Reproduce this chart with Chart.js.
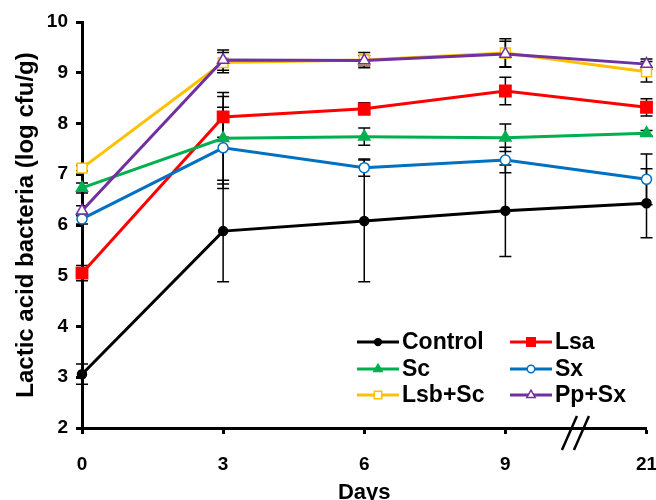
<!DOCTYPE html>
<html>
<head>
<meta charset="utf-8">
<script src="https://cdn.jsdelivr.net/npm/chart.js@4"></script>
<style>
  body { margin: 0; background: #fff; }
  #wrap { width: 656px; height: 500px; }
</style>
</head>
<body>
<div id="wrap"><canvas id="lab-chart"></canvas></div>
<script>
// Days of storage (axis is broken between 9 and 21)
const days = ['0', '3', '6', '9', '21'];
const seriesNames = ['Control', 'Lsa', 'Sc', 'Sx', 'Lsb+Sc', 'Pp+Sx'];

// Mean counts (log cfu/g)
const control = [3.06, 5.88, 6.08, 6.28, 6.43];
const lsa = [5.05, 8.13, 8.29, 8.64, 8.32];
const sc = [6.73, 7.71, 7.74, 7.72, 7.81];
const sx = [6.12, 7.52, 7.13, 7.28, 6.90];
const lsbSc = [7.12, 9.20, 9.25, 9.39, 9.02];
const ppSx = [6.28, 9.25, 9.24, 9.37, 9.17];

// Standard deviations
const controlErr = [0.20, 1.00, 1.20, 0.90, 0.68];
const lsaErr = [0.15, 0.40, 0.12, 0.27, 0.17];
const scErr = [0.10, 0.90, 0.17, 0.27, 0.05];
const sxErr = [0.10, 0.80, 0.17, 0.25, 0.50];
const lsbScErr = [0.05, 0.20, 0.15, 0.28, 0.20];
const ppSxErr = [0.10, 0.20, 0.10, 0.25, 0.10];

const yTicks = [2, 3, 4, 5, 6, 7, 8, 9, 10];

const FONT = "'Liberation Sans', Arial, sans-serif";

const errors = [controlErr, lsaErr, scErr, sxErr, lsbScErr, ppSxErr];

// Error bars, drawn under the lines
const errorBars = {
  id: 'errorBars',
  beforeDatasetsDraw(chart) {
    const ctx = chart.ctx;
    const xs = chart.scales.x;
    const ys = chart.scales.y;
    ctx.save();
    ctx.strokeStyle = '#000';
    ctx.lineWidth = 1.5;
    chart.data.datasets.forEach((ds, i) => {
      ds.data.forEach((v, j) => {
        const e = errors[i][j];
        const x = xs.getPixelForValue(j);
        const yTop = ys.getPixelForValue(v + e);
        const yBot = ys.getPixelForValue(v - e);
        ctx.beginPath();
        ctx.moveTo(x, yTop);
        ctx.lineTo(x, yBot);
        ctx.moveTo(x - 6, yTop);
        ctx.lineTo(x + 6, yTop);
        ctx.moveTo(x - 6, yBot);
        ctx.lineTo(x + 6, yBot);
        ctx.stroke();
      });
    });
    ctx.restore();
  }
};

// Legend inside the plot (2 columns) and the // axis break
const extras = {
  id: 'extras',
  afterDraw(chart) {
    const ctx = chart.ctx;
    const xs = chart.scales.x;
    const ys = chart.scales.y;
    ctx.save();

    // axis break between 9 and 21
    const bx = (xs.getPixelForValue(3) + xs.getPixelForValue(4)) / 2;
    const by = ys.getPixelForValue(2);
    ctx.strokeStyle = '#000';
    ctx.lineWidth = 2.5;
    [-6, 6].forEach(dx => {
      ctx.beginPath();
      ctx.moveTo(bx + dx - 8, by + 22);
      ctx.lineTo(bx + dx + 7, by - 12);
      ctx.stroke();
    });

    // legend
    ctx.font = 'bold 23px ' + FONT;
    ctx.textBaseline = 'middle';
    ctx.textAlign = 'left';
    const colX = [357, 510];
    const rowY = [342, 369, 395];
    chart.data.datasets.forEach((ds, i) => {
      const x0 = colX[i % 2];
      const y0 = rowY[Math.floor(i / 2)];
      ctx.strokeStyle = ds.borderColor;
      ctx.lineWidth = 3;
      ctx.beginPath();
      ctx.moveTo(x0, y0);
      ctx.lineTo(x0 + 42, y0);
      ctx.stroke();
      ctx.fillStyle = ds.pointBackgroundColor;
      ctx.strokeStyle = ds.borderColor;
      ctx.lineWidth = 1.5;
      Chart.helpers.drawPoint(ctx, {
        pointStyle: ds.pointStyle,
        radius: ds.pointRadius * 0.75,
        rotation: 0,
        borderWidth: 1.5
      }, x0 + 21, y0);
      ctx.fillStyle = '#000';
      ctx.fillText(ds.label, x0 + 45, y0 + 1);
    });
    ctx.restore();
  }
};

function makeSet(label, data, color, style, radius, filled, order) {
  return {
    label: label,
    data: data,
    borderColor: color,
    backgroundColor: color,
    borderWidth: 3,
    pointStyle: style,
    pointRadius: radius,
    pointBorderWidth: 1.5,
    pointBackgroundColor: filled ? color : '#fff',
    pointBorderColor: color,
    tension: 0,
    order: order
  };
}

const ctx = document.getElementById('lab-chart');

new Chart(ctx, {
  type: 'line',
  data: {
    labels: days,
    datasets: [
      makeSet(seriesNames[0], control, '#000000', 'circle', 4.5, true, 5),
      makeSet(seriesNames[1], lsa, '#ff0000', 'rect', 8, true, 4),
      makeSet(seriesNames[2], sc, '#00b050', 'triangle', 6.5, true, 3),
      makeSet(seriesNames[3], sx, '#0070c0', 'circle', 5, false, 2),
      makeSet(seriesNames[4], lsbSc, '#ffc000', 'rect', 7, false, 1),
      makeSet(seriesNames[5], ppSx, '#7030a0', 'triangle', 6.5, false, 0)
    ]
  },
  options: {
    responsive: true,
    maintainAspectRatio: false,
    animation: false,
    layout: {
      padding: { top: 22, right: 8, left: 0, bottom: 0 }
    },
    scales: {
      x: {
        type: 'category',
        offset: false,
        grid: {
          display: true,
          drawOnChartArea: false,
          drawTicks: true,
          tickLength: 6,
          tickWidth: 3,
          tickColor: '#000'
        },
        border: { display: true, color: '#000', width: 3 },
        ticks: {
          color: '#000',
          padding: 19,
          maxRotation: 0,
          font: { family: FONT, size: 19, weight: 'bold' }
        },
        title: {
          display: true,
          text: 'Days',
          color: '#000',
          padding: { top: 0, bottom: -6 },
          font: { family: FONT, size: 22, weight: 'bold' }
        },
        afterFit(scale) {
          scale.height = 72;
          scale.paddingRight = 0;
          scale.paddingLeft = 0;
        }
      },
      y: {
        min: 2,
        max: 10,
        afterBuildTicks(scale) {
          scale.ticks = yTicks.map(v => ({ value: v }));
        },
        grid: {
          display: true,
          drawOnChartArea: false,
          drawTicks: true,
          tickLength: 6,
          tickWidth: 3,
          tickColor: '#000'
        },
        border: { display: true, color: '#000', width: 3 },
        ticks: {
          color: '#000',
          padding: 8,
          font: { family: FONT, size: 19, weight: 'bold' }
        },
        title: {
          display: true,
          text: 'Lactic acid bacteria (log cfu/g)',
          color: '#000',
          padding: { top: 12, bottom: 0 },
          font: { family: FONT, size: 24, weight: 'bold' }
        },
        afterFit(scale) {
          scale.width = 82;
          scale.paddingTop = 0;
          scale.paddingBottom = 0;
        }
      }
    },
    plugins: {
      legend: { display: false },
      tooltip: { enabled: false }
    }
  },
  plugins: [errorBars, extras]
});
</script>
</body>
</html>
